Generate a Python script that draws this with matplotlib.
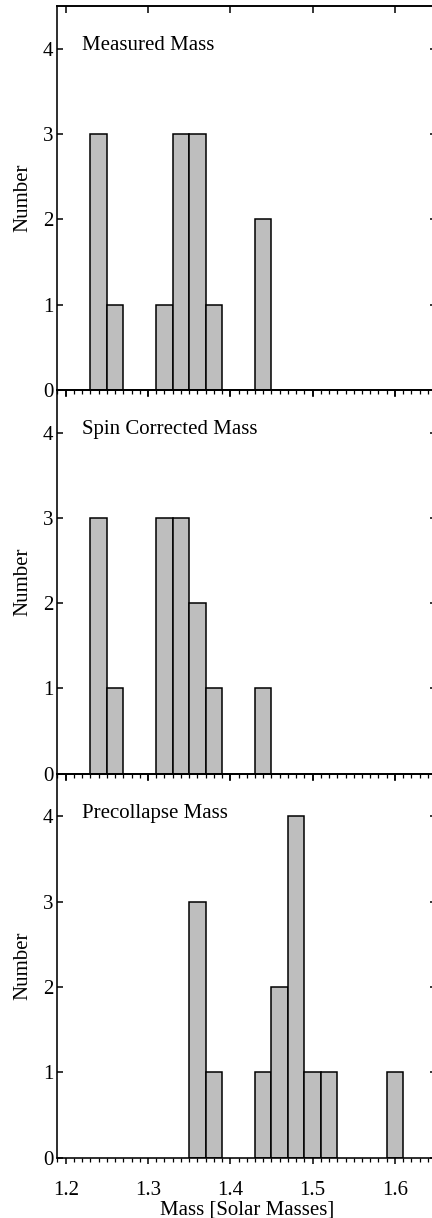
#!/usr/bin/env python3
# -*- coding: utf-8 -*-
import numpy as np
import matplotlib
matplotlib.use("Agg")
import matplotlib.pyplot as plt
from matplotlib.ticker import MultipleLocator

# -------------------------
# Histogram data (left bin edges, bin width 0.02 Msun)
# -------------------------
BIN_WIDTH = 0.02

measured_edges = [1.23, 1.25, 1.31, 1.33, 1.35, 1.37, 1.43]
measured_counts = [3, 1, 1, 3, 3, 1, 2]

spin_edges = [1.23, 1.25, 1.31, 1.33, 1.35, 1.37, 1.43]
spin_counts = [3, 1, 3, 3, 2, 1, 1]

precollapse_edges = [1.35, 1.37, 1.43, 1.45, 1.47, 1.49, 1.51, 1.59]
precollapse_counts = [3, 1, 1, 2, 4, 1, 1, 1]

panel_titles = ["Measured Mass", "Spin Corrected Mass", "Precollapse Mass"]
x_ticks = [1.2, 1.3, 1.4, 1.5, 1.6]
y_ticks = [0, 1, 2, 3, 4]

panels = [
    (measured_edges, measured_counts),
    (spin_edges, spin_counts),
    (precollapse_edges, precollapse_counts),
]

plt.rcParams["font.family"] = ["Liberation Serif", "DejaVu Serif"]
plt.rcParams["axes.linewidth"] = 1.15

fig, axes = plt.subplots(3, 1, figsize=(4.32, 12.18), dpi=100, sharex=True)
fig.subplots_adjust(left=0.1331, right=1.0093, bottom=0.0495, top=0.9951, hspace=0)

for i, (ax, (edges, counts), title) in enumerate(zip(axes, panels, panel_titles)):
    ax.patch.set_visible(False)
    ax.bar(edges, counts, width=BIN_WIDTH, align="edge",
           color="#bebebe", edgecolor="black", linewidth=1.1, zorder=2)

    ax.set_xlim(1.19, 1.65)
    ax.set_ylim(0, 4.5)

    # y ticks on both sides, pointing in
    ax.set_yticks(y_ticks)
    ax.tick_params(axis="y", which="major", direction="in", length=4.3,
                   width=1.1, left=True, right=True, labelsize=15, pad=3.0)

    # bottom x ticks point out, with minor ticks every 0.01
    ax.set_xticks(x_ticks)
    ax.xaxis.set_minor_locator(MultipleLocator(0.01))
    ax.tick_params(axis="x", which="major", direction="out", length=4.6,
                   width=1.1, top=False, bottom=True, labelsize=15, pad=12.5)
    ax.tick_params(axis="x", which="minor", direction="out", length=2.8,
                   width=0.9, top=False, bottom=True)
    if i < 2:
        ax.tick_params(axis="x", which="both", labelbottom=False)

    # top axis: major ticks only, pointing in
    top = ax.secondary_xaxis("top")
    top.set_xticks(x_ticks)
    top.tick_params(axis="x", which="major", direction="in", length=5.0,
                    width=1.1, labeltop=False)
    top.tick_params(axis="x", which="minor", length=0)

    ax.set_ylabel("Number", fontsize=15)
    ax.yaxis.set_label_coords(-0.066, 0.5)

    ax.text(1.22, 3.98, title, fontsize=15, va="baseline", ha="left")

axes[-1].set_xlabel("Mass [Solar Masses]", fontsize=15, labelpad=0.0)

fig.savefig("out.png", dpi=100, facecolor="white")
